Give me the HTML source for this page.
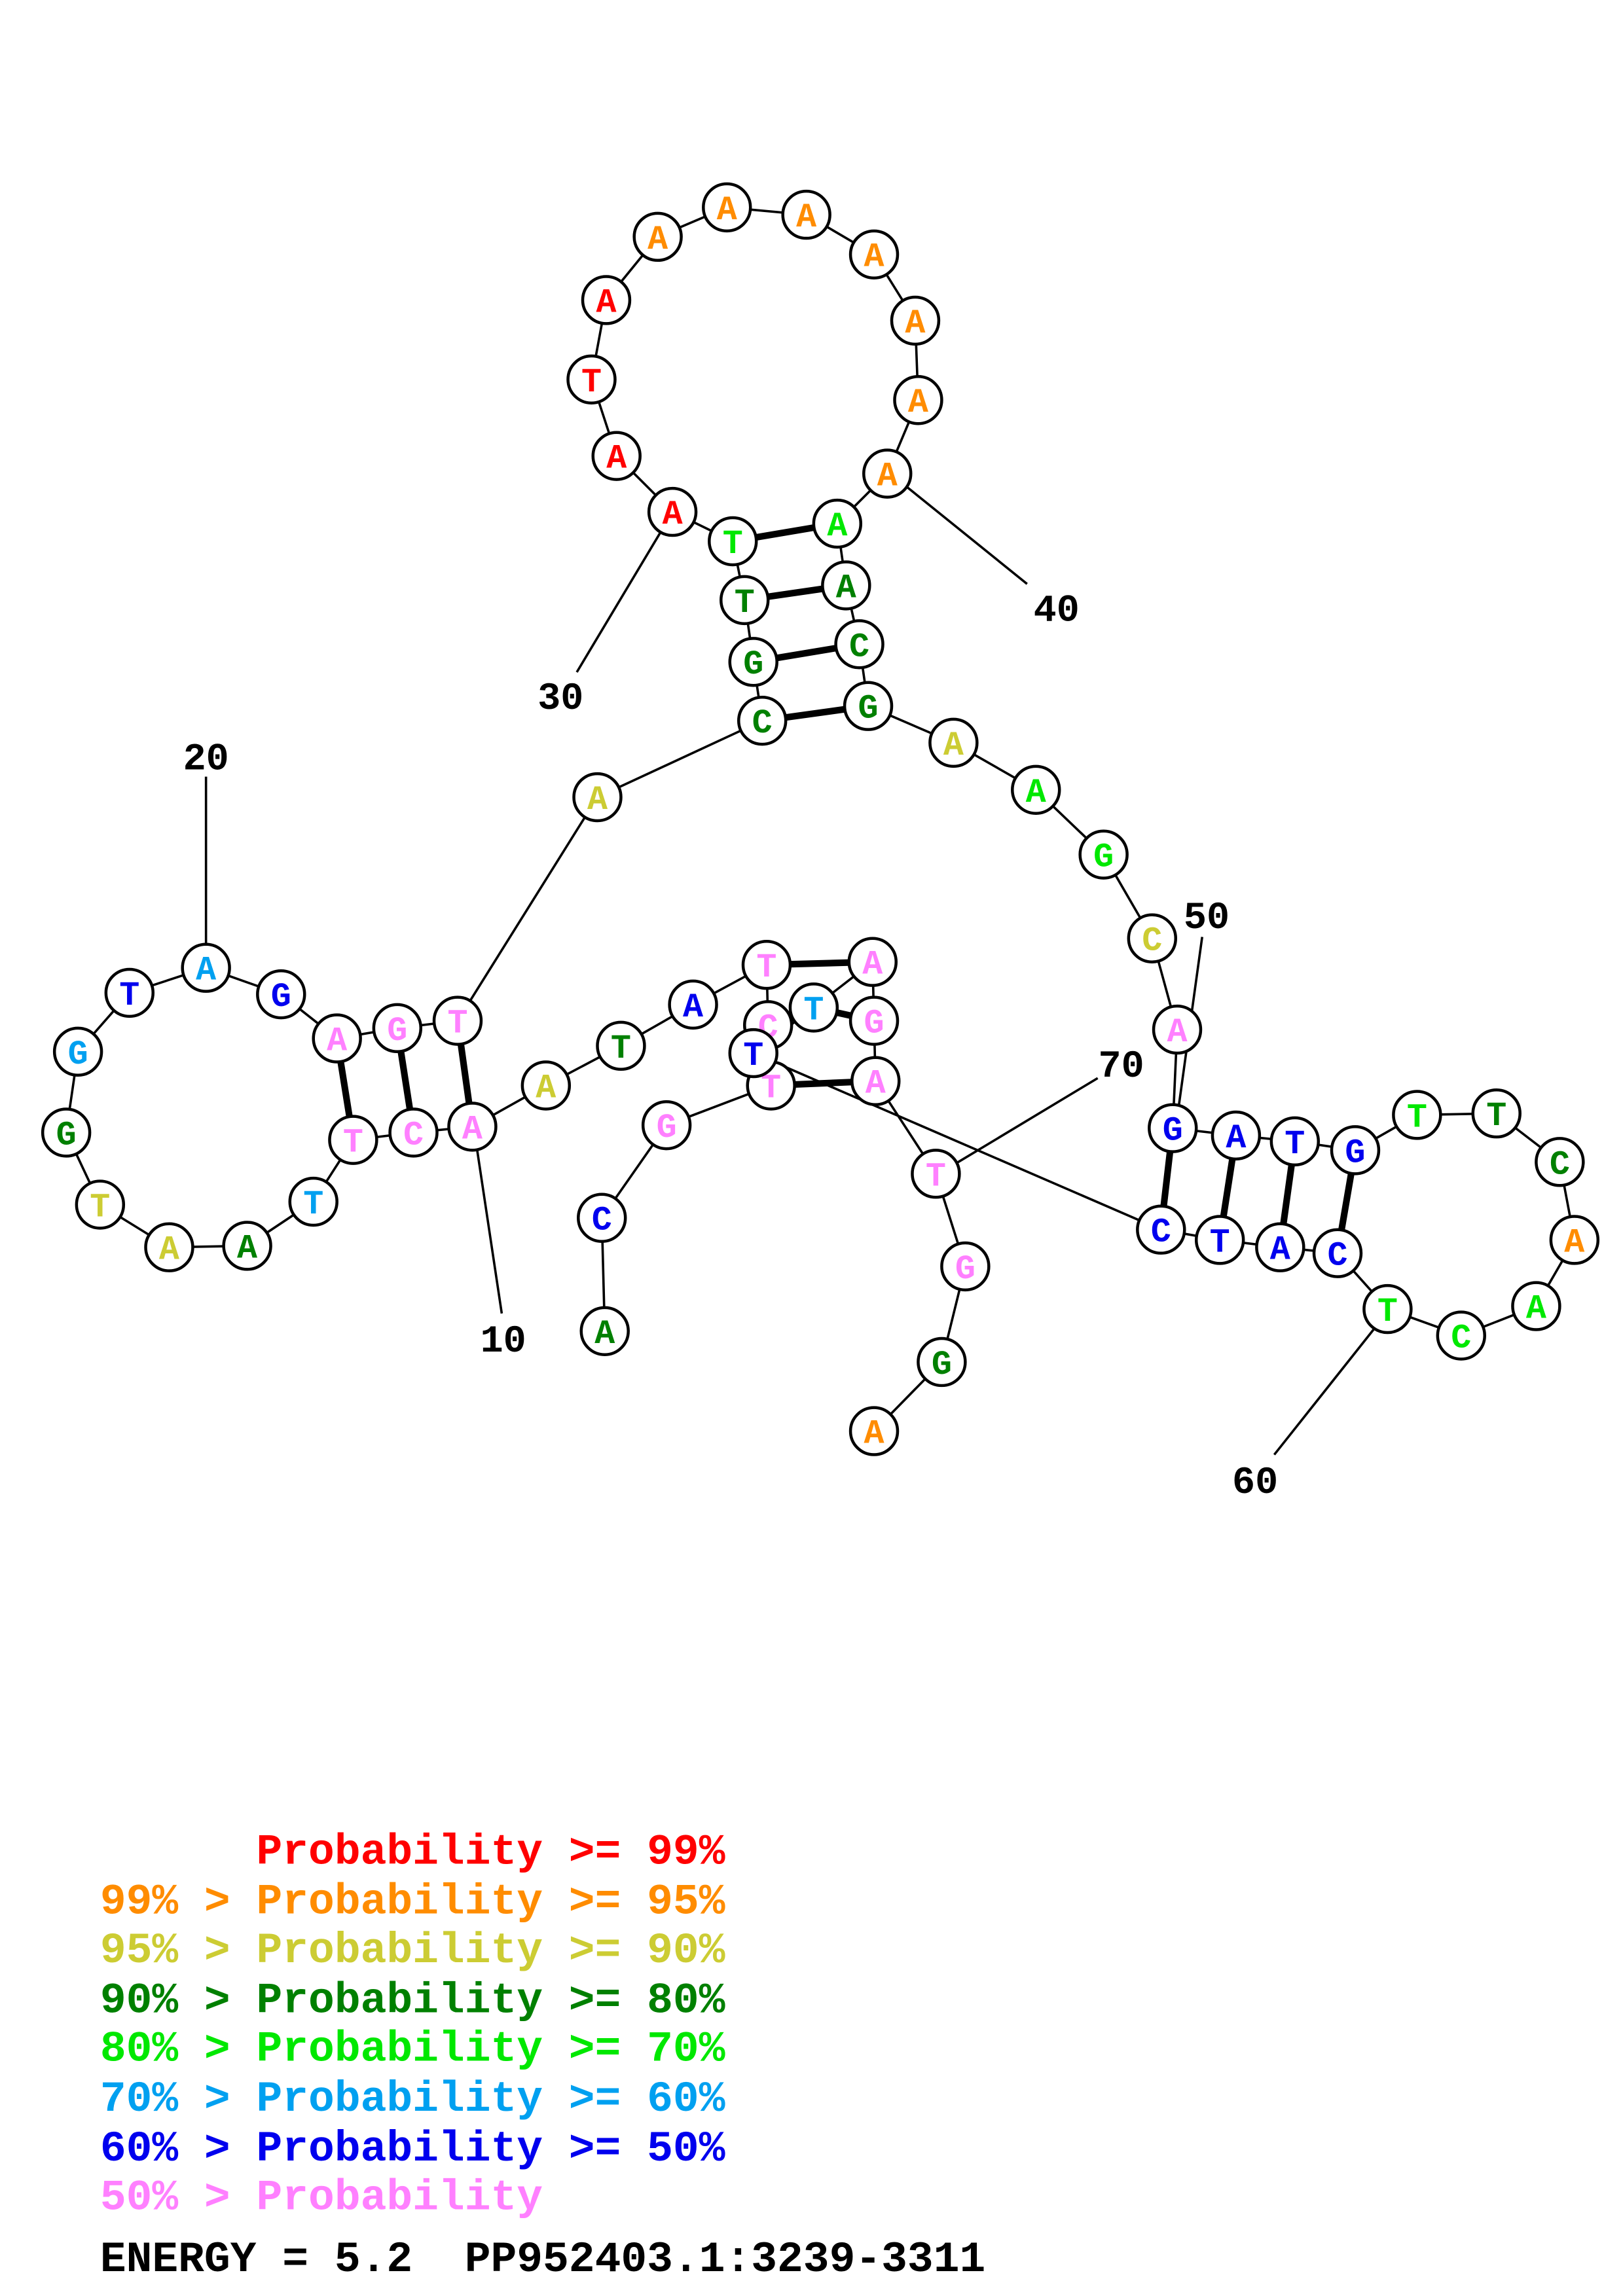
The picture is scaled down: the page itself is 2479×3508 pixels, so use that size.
<!DOCTYPE html>
<html><head><meta charset="utf-8"><style>
html,body{margin:0;padding:0;background:#fff;}
svg{display:block;}
.n circle{fill:#fff;stroke:#000;stroke-width:2;}
.n text{font-family:"Liberation Mono",monospace;font-weight:bold;font-size:23px;text-anchor:middle;}
.lab{font-family:"Liberation Mono",monospace;font-weight:bold;font-size:26px;text-anchor:middle;fill:#000;}
.leg{font-family:"Liberation Mono",monospace;font-weight:bold;font-size:29.5px;white-space:pre;}
.r{fill:#ff0000}.o{fill:#ff8c00}.y{fill:#cccc33}.dg{fill:#008000}.g{fill:#00e800}.c{fill:#00a0f0}.b{fill:#0000ee}.p{fill:#ff80ff}
</style></head><body>
<svg width="2479" height="3508" viewBox="0 0 1103 1561" preserveAspectRatio="none" xmlns="http://www.w3.org/2000/svg">
<g stroke="#000" stroke-width="1.6" fill="none">
<polyline points="411,905 409,828 453,765 524,738 522,697 521,656 471,683 422,711 371,738 321,766 281,770 240,775 213,817 168,847 115,848 68,819 45,770 53,715 88,675 140,658 191,676 229,706 270,699 311,694 406,542 518,490 512,450 506,408 498,368 457,348 419,310 402,258 412,204 447,161 494,141 548,146 594,173 622,218 624,272 603,322 569,356 575,398 584,438 590,480 648,505 704,537 750,581 783,638 800,700 797,767 840,772 880,776 921,782 963,758 1017,757 1060,790 1070,843 1044,888 993,908 943,890 909,852 870,848 829,843 789,836 512,716 553,685 593,654 594,694 595,735 636,798 656,861 640,926 594,973"/>
<line x1="140" y1="528" x2="140" y2="644"/>
<line x1="392" y1="457" x2="450" y2="360"/>
<line x1="698" y1="397" x2="615" y2="330"/>
<line x1="341" y1="893" x2="324" y2="780"/>
<line x1="817" y1="637" x2="800" y2="760"/>
<line x1="866" y1="989" x2="935" y2="902"/>
<line x1="746" y1="733" x2="648" y2="792"/>
</g>
<g stroke="#000" stroke-width="4.5">
<line x1="229" y1="706" x2="240" y2="775"/>
<line x1="270" y1="699" x2="281" y2="770"/>
<line x1="311" y1="694" x2="321" y2="766"/>
<line x1="498" y1="368" x2="569" y2="356"/>
<line x1="506" y1="408" x2="575" y2="398"/>
<line x1="512" y1="450" x2="584" y2="438"/>
<line x1="518" y1="490" x2="590" y2="480"/>
<line x1="797" y1="767" x2="789" y2="836"/>
<line x1="840" y1="772" x2="829" y2="843"/>
<line x1="880" y1="776" x2="870" y2="848"/>
<line x1="921" y1="782" x2="909" y2="852"/>
<line x1="521" y1="656" x2="593" y2="654"/>
<line x1="553" y1="685" x2="594" y2="694"/>
<line x1="524" y1="738" x2="595" y2="735"/>
</g>
<g class="n">
<circle cx="411" cy="905" r="16"/><text x="411" y="913" class="dg">A</text>
<circle cx="409" cy="828" r="16"/><text x="409" y="836" class="b">C</text>
<circle cx="453" cy="765" r="16"/><text x="453" y="773" class="p">G</text>
<circle cx="524" cy="738" r="16"/><text x="524" y="746" class="p">T</text>
<circle cx="522" cy="697" r="16"/><text x="522" y="705" class="p">C</text>
<circle cx="521" cy="656" r="16"/><text x="521" y="664" class="p">T</text>
<circle cx="471" cy="683" r="16"/><text x="471" y="691" class="b">A</text>
<circle cx="422" cy="711" r="16"/><text x="422" y="719" class="dg">T</text>
<circle cx="371" cy="738" r="16"/><text x="371" y="746" class="y">A</text>
<circle cx="321" cy="766" r="16"/><text x="321" y="774" class="p">A</text>
<circle cx="281" cy="770" r="16"/><text x="281" y="778" class="p">C</text>
<circle cx="240" cy="775" r="16"/><text x="240" y="783" class="p">T</text>
<circle cx="213" cy="817" r="16"/><text x="213" y="825" class="c">T</text>
<circle cx="168" cy="847" r="16"/><text x="168" y="855" class="dg">A</text>
<circle cx="115" cy="848" r="16"/><text x="115" y="856" class="y">A</text>
<circle cx="68" cy="819" r="16"/><text x="68" y="827" class="y">T</text>
<circle cx="45" cy="770" r="16"/><text x="45" y="778" class="dg">G</text>
<circle cx="53" cy="715" r="16"/><text x="53" y="723" class="c">G</text>
<circle cx="88" cy="675" r="16"/><text x="88" y="683" class="b">T</text>
<circle cx="140" cy="658" r="16"/><text x="140" y="666" class="c">A</text>
<circle cx="191" cy="676" r="16"/><text x="191" y="684" class="b">G</text>
<circle cx="229" cy="706" r="16"/><text x="229" y="714" class="p">A</text>
<circle cx="270" cy="699" r="16"/><text x="270" y="707" class="p">G</text>
<circle cx="311" cy="694" r="16"/><text x="311" y="702" class="p">T</text>
<circle cx="406" cy="542" r="16"/><text x="406" y="550" class="y">A</text>
<circle cx="518" cy="490" r="16"/><text x="518" y="498" class="dg">C</text>
<circle cx="512" cy="450" r="16"/><text x="512" y="458" class="dg">G</text>
<circle cx="506" cy="408" r="16"/><text x="506" y="416" class="dg">T</text>
<circle cx="498" cy="368" r="16"/><text x="498" y="376" class="g">T</text>
<circle cx="457" cy="348" r="16"/><text x="457" y="356" class="r">A</text>
<circle cx="419" cy="310" r="16"/><text x="419" y="318" class="r">A</text>
<circle cx="402" cy="258" r="16"/><text x="402" y="266" class="r">T</text>
<circle cx="412" cy="204" r="16"/><text x="412" y="212" class="r">A</text>
<circle cx="447" cy="161" r="16"/><text x="447" y="169" class="o">A</text>
<circle cx="494" cy="141" r="16"/><text x="494" y="149" class="o">A</text>
<circle cx="548" cy="146" r="16"/><text x="548" y="154" class="o">A</text>
<circle cx="594" cy="173" r="16"/><text x="594" y="181" class="o">A</text>
<circle cx="622" cy="218" r="16"/><text x="622" y="226" class="o">A</text>
<circle cx="624" cy="272" r="16"/><text x="624" y="280" class="o">A</text>
<circle cx="603" cy="322" r="16"/><text x="603" y="330" class="o">A</text>
<circle cx="569" cy="356" r="16"/><text x="569" y="364" class="g">A</text>
<circle cx="575" cy="398" r="16"/><text x="575" y="406" class="dg">A</text>
<circle cx="584" cy="438" r="16"/><text x="584" y="446" class="dg">C</text>
<circle cx="590" cy="480" r="16"/><text x="590" y="488" class="dg">G</text>
<circle cx="648" cy="505" r="16"/><text x="648" y="513" class="y">A</text>
<circle cx="704" cy="537" r="16"/><text x="704" y="545" class="g">A</text>
<circle cx="750" cy="581" r="16"/><text x="750" y="589" class="g">G</text>
<circle cx="783" cy="638" r="16"/><text x="783" y="646" class="y">C</text>
<circle cx="800" cy="700" r="16"/><text x="800" y="708" class="p">A</text>
<circle cx="797" cy="767" r="16"/><text x="797" y="775" class="b">G</text>
<circle cx="840" cy="772" r="16"/><text x="840" y="780" class="b">A</text>
<circle cx="880" cy="776" r="16"/><text x="880" y="784" class="b">T</text>
<circle cx="921" cy="782" r="16"/><text x="921" y="790" class="b">G</text>
<circle cx="963" cy="758" r="16"/><text x="963" y="766" class="g">T</text>
<circle cx="1017" cy="757" r="16"/><text x="1017" y="765" class="dg">T</text>
<circle cx="1060" cy="790" r="16"/><text x="1060" y="798" class="dg">C</text>
<circle cx="1070" cy="843" r="16"/><text x="1070" y="851" class="o">A</text>
<circle cx="1044" cy="888" r="16"/><text x="1044" y="896" class="g">A</text>
<circle cx="993" cy="908" r="16"/><text x="993" y="916" class="g">C</text>
<circle cx="943" cy="890" r="16"/><text x="943" y="898" class="g">T</text>
<circle cx="909" cy="852" r="16"/><text x="909" y="860" class="b">C</text>
<circle cx="870" cy="848" r="16"/><text x="870" y="856" class="b">A</text>
<circle cx="829" cy="843" r="16"/><text x="829" y="851" class="b">T</text>
<circle cx="789" cy="836" r="16"/><text x="789" y="844" class="b">C</text>
<circle cx="512" cy="716" r="16"/><text x="512" y="724" class="b">T</text>
<circle cx="553" cy="685" r="16"/><text x="553" y="693" class="c">T</text>
<circle cx="593" cy="654" r="16"/><text x="593" y="662" class="p">A</text>
<circle cx="594" cy="694" r="16"/><text x="594" y="702" class="p">G</text>
<circle cx="595" cy="735" r="16"/><text x="595" y="743" class="p">A</text>
<circle cx="636" cy="798" r="16"/><text x="636" y="806" class="p">T</text>
<circle cx="656" cy="861" r="16"/><text x="656" y="869" class="p">G</text>
<circle cx="640" cy="926" r="16"/><text x="640" y="934" class="dg">G</text>
<circle cx="594" cy="973" r="16"/><text x="594" y="981" class="o">A</text>
</g>
<text class="lab" x="140" y="523">20</text>
<text class="lab" x="381" y="482">30</text>
<text class="lab" x="718" y="422">40</text>
<text class="lab" x="342" y="919">10</text>
<text class="lab" x="820" y="631">50</text>
<text class="lab" x="853" y="1015">60</text>
<text class="lab" x="762" y="732">70</text>
<text class="leg r" x="68" y="1267">      Probability &gt;= 99%</text>
<text class="leg o" x="68" y="1301">99% &gt; Probability &gt;= 95%</text>
<text class="leg y" x="68" y="1334">95% &gt; Probability &gt;= 90%</text>
<text class="leg dg" x="68" y="1368">90% &gt; Probability &gt;= 80%</text>
<text class="leg g" x="68" y="1401">80% &gt; Probability &gt;= 70%</text>
<text class="leg c" x="68" y="1435">70% &gt; Probability &gt;= 60%</text>
<text class="leg b" x="68" y="1469">60% &gt; Probability &gt;= 50%</text>
<text class="leg p" x="68" y="1502">50% &gt; Probability</text>
<text class="leg" x="68" y="1544" fill="#000">ENERGY = 5.2  PP952403.1:3239-3311</text>
</svg>
</body></html>
